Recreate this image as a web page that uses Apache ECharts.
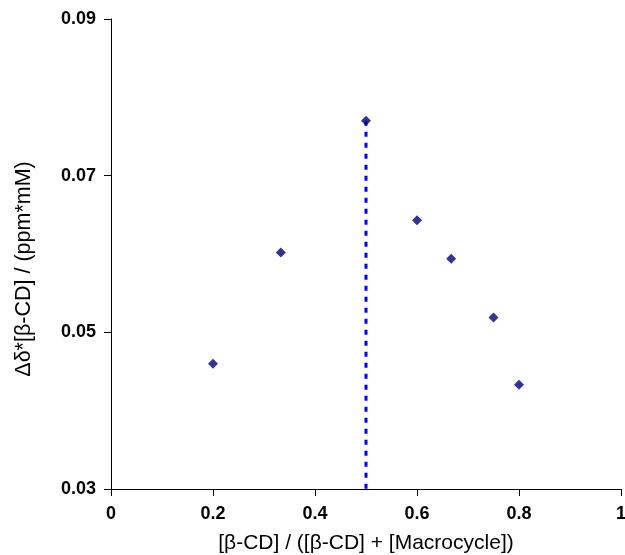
<!DOCTYPE html>
<html>
<head>
<meta charset="utf-8">
<script src="https://cdn.jsdelivr.net/npm/echarts@6/dist/echarts.min.js"></script>
<style>html,body{margin:0;padding:0;background:#fff}#c{width:625px;height:555px}</style>
</head>
<body>
<div id="c"></div>
<script>
var xValues = [0.2, 0.333, 0.5, 0.6, 0.667, 0.75, 0.8];
var yValues = [0.0460, 0.0602, 0.0770, 0.0643, 0.0594, 0.0519, 0.0433];
var xTicks = [0, 0.2, 0.4, 0.6, 0.8, 1];
var yTicks = [0.03, 0.05, 0.07, 0.09];
var maxLineX = [0.5, 0.5];
var maxLineY = [0.0770, 0.03];

var points = xValues.map(function (x, i) { return [x, yValues[i]]; });
var vline = maxLineX.map(function (x, i) { return [x, maxLineY[i]]; });

var chart = echarts.init(document.getElementById('c'));
chart.setOption({
  animation: false,
  backgroundColor: '#ffffff',
  grid: { left: 111, right: 4, top: 19, bottom: 66, containLabel: false, outerBoundsMode: 'none' },
  xAxis: {
    type: 'value', min: xTicks[0], max: xTicks[xTicks.length - 1], interval: 0.2,
    name: '[β-CD] / ([β-CD] + [Macrocycle])', nameLocation: 'middle', nameGap: 44,
    nameTextStyle: { fontFamily: 'Liberation Sans', fontSize: 21, color: '#000' },
    axisLine: { lineStyle: { color: '#000', width: 1 } },
    axisTick: { length: 7, lineStyle: { color: '#000' } },
    axisLabel: { margin: 16, fontFamily: 'Liberation Sans', fontWeight: 'bold', fontSize: 18, color: '#000',
      formatter: function (v) { return String(+v.toFixed(1)); } },
    splitLine: { show: false }
  },
  yAxis: {
    type: 'value', min: yTicks[0], max: yTicks[yTicks.length - 1], interval: 0.02,
    name: 'Δδ*[β-CD] / (ppm*mM)', nameLocation: 'middle', nameGap: 76,
    nameTextStyle: { fontFamily: 'Liberation Sans', fontSize: 21.5, color: '#000', padding: [0, 30, 0, 0] },
    axisLine: { show: true, lineStyle: { color: '#000', width: 1 } },
    axisTick: { show: true, length: 7, lineStyle: { color: '#000' } },
    axisLabel: { margin: 15, fontFamily: 'Liberation Sans', fontWeight: 'bold', fontSize: 18, color: '#000',
      formatter: function (v) { return v.toFixed(2); } },
    splitLine: { show: false }
  },
  series: [
    {
      type: 'line', data: vline, symbol: 'none', silent: true,
      lineStyle: { color: '#0000FF', width: 3, type: [5, 6] }, z: 1
    },
    {
      type: 'scatter', data: points, symbol: 'diamond', symbolSize: 10,
      itemStyle: { color: '#000080' }, z: 3
    }
  ]
});
</script>
</body>
</html>
